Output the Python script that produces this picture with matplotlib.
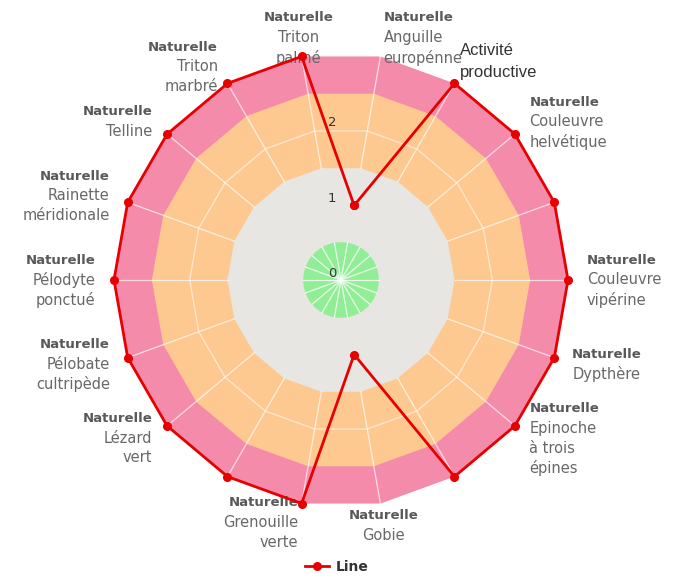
import matplotlib.pyplot as plt
import numpy as np

# Categories, clockwise from the first spoke (10 degrees from north)
groups = ['Naturelle', '', 'Naturelle', 'Naturelle', 'Naturelle', 'Naturelle',
          'Naturelle', 'Naturelle', 'Naturelle', 'Naturelle', 'Naturelle', 'Naturelle',
          'Naturelle', 'Naturelle', 'Naturelle', 'Naturelle', 'Naturelle', 'Naturelle']
names = ['Anguille\neuropénne', 'Activité\nproductive', 'Couleuvre\nhelvétique', '',
         'Couleuvre\nvipérine', 'Dypthère', 'Epinoche\nà trois\népines', '',
         'Gobie', 'Grenouille\nverte', '', 'Lézard\nvert',
         'Pélobate\ncultripède', 'Pélodyte\nponctué', 'Rainette\nméridionale', 'Telline',
         'Triton\nmarbré', 'Triton\npalmé']
values = [1, 3, 3, 3, 3, 3, 3, 3, 1, 3, 3, 3, 3, 3, 3, 3, 3, 3]

# plot bands (from, to) and y ticks
band_edges = [0, 0.5, 1.5, 2.5, 3]
band_colors = ['#92EE96', '#E8E6E2', '#FEC891', '#F48BAA']
y_ticks = [0, 1, 2]
y_max = 3

n = len(names)
theta = np.deg2rad(10 + 360.0 / n * np.arange(n))
theta_c = np.append(theta, theta[0])

fig = plt.figure(figsize=(6.74, 5.79), dpi=100)
ax = fig.add_axes([114 / 674, 72 / 579, 454 / 674, 454 / 579], projection='polar')
ax.set_theta_zero_location('N')
ax.set_theta_direction(-1)
ax.set_ylim(0, y_max)
ax.set_axis_off()

# bands: polygons, the innermost one is round
for lo, hi, col in reversed(list(zip(band_edges[:-1], band_edges[1:], band_colors))):
    if lo == 0:
        t = np.linspace(0, 2 * np.pi, 240)
        ax.fill(t, np.full_like(t, hi), color=col, lw=0, zorder=1)
    else:
        ax.fill(theta_c, np.full(n + 1, hi), color=col, lw=0, zorder=1)

# grid: spokes and polygon line (hidden under the grey band in the original)
for th in theta:
    ax.plot([th, th], [0, band_edges[1]], color='white', lw=0.9, alpha=0.8, zorder=2)
    ax.plot([th, th], [band_edges[2], y_max], color='white', lw=0.9, alpha=0.7, zorder=2)
ax.plot(theta_c, np.full(n + 1, 2), color='white', lw=0.9, alpha=0.6, zorder=2)

# y labels
for v in y_ticks:
    ax.annotate(str(v), xy=(0, v), xytext=(-3.5, 4.5), textcoords='offset points',
                ha='right', va='center', fontsize=9.5, color='#333333',
                annotation_clip=False, zorder=4)

# category labels
d = 19  # px outward
for th, g, nm in zip(theta, groups, names):
    if not nm:
        continue
    deg = (np.rad2deg(th) + 10) % 360
    if deg < 15 or deg > 345 or 165 < deg < 195:
        ha = 'center'
    elif deg < 180:
        ha = 'left'
    else:
        ha = 'right'
    lines = ([(g, 'bold')] if g else []) + [(s, 'normal') for s in nm.split('\n')]
    plain = not g
    lh = 22 if plain else 19.8
    cx = d * np.sin(th) - (4 if plain else 0)
    cy = d * np.cos(th) + (5 if plain else 0) + len(lines) * lh / 2
    if np.cos(th) < -0.95 and ha == 'center':
        cy -= 3
    for i, (s, w) in enumerate(lines):
        y = cy - (i + 0.5) * lh
        if plain:
            kw = dict(fontsize=12, color='#333333', family='Liberation Sans')
        elif w == 'bold':
            kw = dict(fontsize=9.5, color='#595959', fontweight='bold', family='DejaVu Sans')
        else:
            kw = dict(fontsize=10.5, color='#686868', family='DejaVu Sans')
        ax.annotate(s, xy=(th, y_max), xytext=(cx * 0.72, y * 0.72),
                    textcoords='offset points', ha=ha, va='center',
                    annotation_clip=False, zorder=5, **kw)

# series
line, = ax.plot(theta_c, np.append(values, values[0]), color='#E60000', lw=2,
                marker='o', markersize=5.5, clip_on=False, zorder=10, label='Line')

fig.legend(handles=[line], loc='center', bbox_to_anchor=(0.5, 1 - 567 / 579),
           frameon=False, handlelength=1.7, handletextpad=0.5,
           prop={'weight': 'bold', 'size': 10}, labelcolor='#333333')

fig.savefig('out.png', dpi=100)
